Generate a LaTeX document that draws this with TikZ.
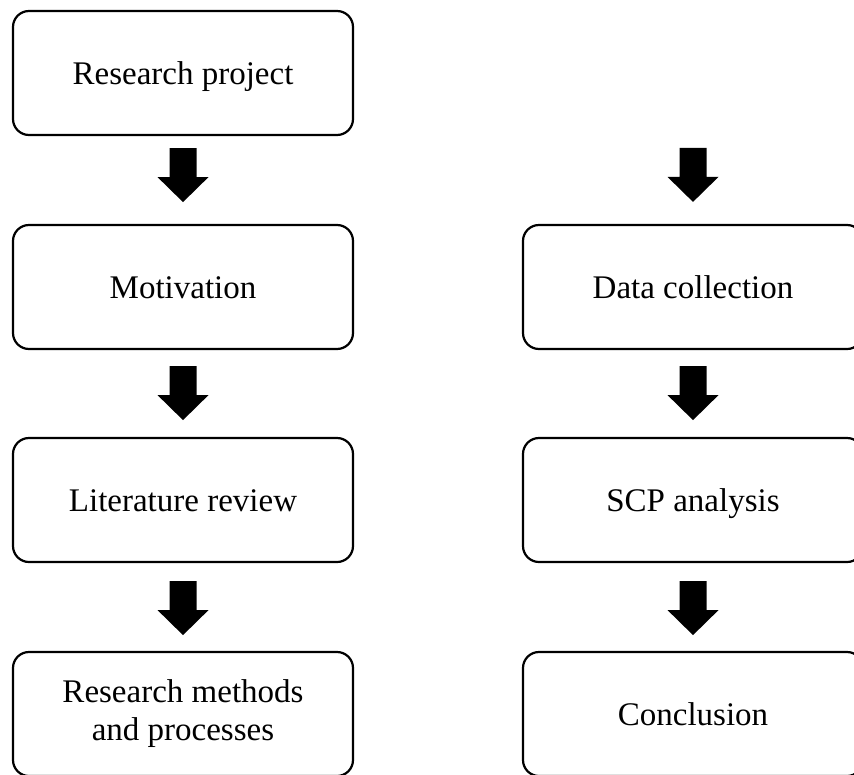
\documentclass[tikz,border=0pt]{standalone}
\usepackage{fontspec}
\setmainfont{Liberation Serif}
\usetikzlibrary{calc}
\begin{document}
\begin{tikzpicture}[x=1pt,y=-1pt,
  stage/.style={draw=black, line width=2.2pt, rounded corners=16pt, minimum width=340pt, minimum height=124pt, align=center, inner sep=0pt, font=\fontsize{33}{38}\selectfont},
  oneline/.style={text height=29.7pt, text depth=7.3pt},
  blockarrow/.pic={\fill[black] (-13.5,0) -- (13.5,0) -- (13.5,29) -- (25.5,29) -- (0,54) -- (-25.5,29) -- (-13.5,29) -- cycle;}]
\useasboundingbox (0,0) rectangle (854,774);
% left column
\node[stage,oneline] (rp) at (183,73) {Research project};
\node[stage,oneline] (mo) at (183,287) {Motivation};
\node[stage,oneline] (lr) at (183,500) {Literature review};
\node[stage] (rm) at (183,714) {Research methods\\and processes};
% right column
\node[stage,oneline] (dc) at (693,287) {Data collection};
\node[stage,oneline] (sa) at (693,500) {SCP analysis};
\node[stage,oneline] (co) at (693,714) {Conclusion};
% block arrows
\pic at ($(rp.south)+(0,12)$) {blockarrow};
\pic at ($(mo.south)+(0,16)$) {blockarrow};
\pic at ($(lr.south)+(0,18)$) {blockarrow};
\pic at ($(dc.north)+(0,-76)$) {blockarrow};
\pic at ($(dc.south)+(0,16)$) {blockarrow};
\pic at ($(sa.south)+(0,18)$) {blockarrow};
\end{tikzpicture}
\end{document}
